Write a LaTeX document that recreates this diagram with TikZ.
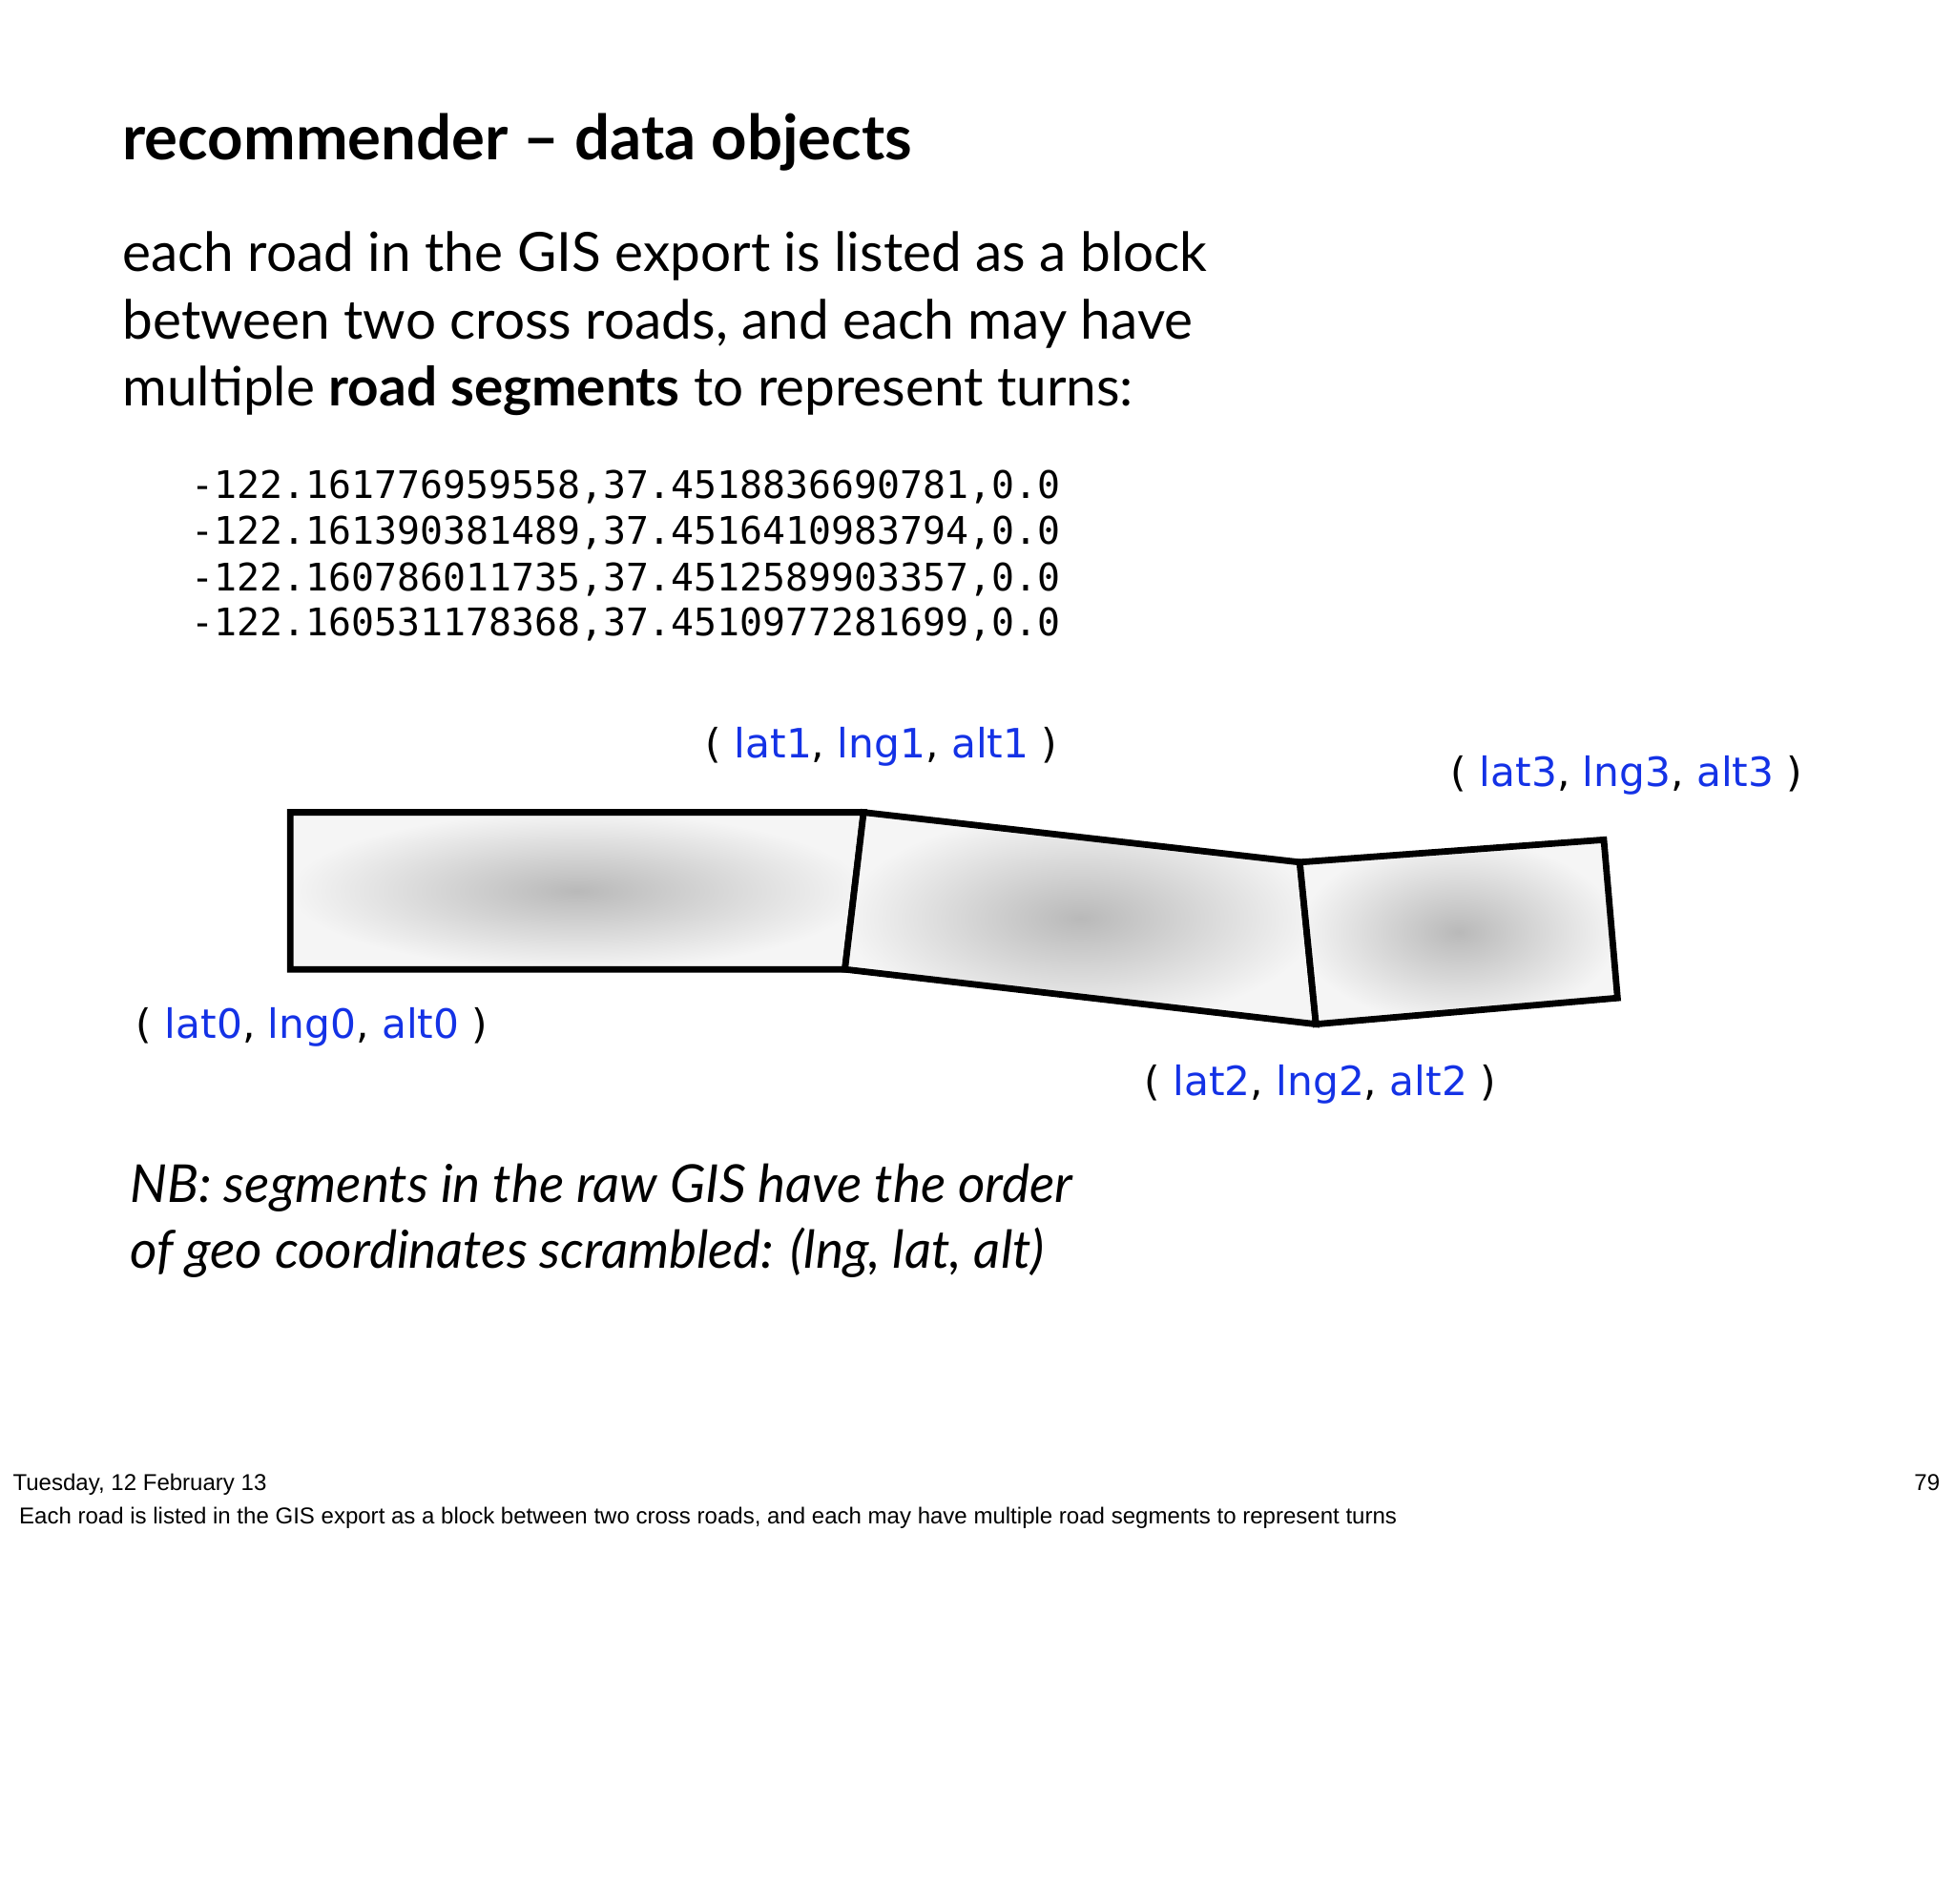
\documentclass[tikz,border=0pt]{standalone}
\usepackage{fontspec}
\setmainfont{Lato}
\newfontfamily\monof{DejaVu Sans Mono}
\newfontfamily\labf{DejaVu Sans}
\newfontfamily\footf{Liberation Sans}
\definecolor{lblue}{RGB}{20,50,230}
\begin{document}
\begin{tikzpicture}[x=0.5pt,y=-0.5pt,
  seg/.style={draw=black,line width=2.6pt,line join=miter,shading=radial,inner color=gray!55,outer color=gray!8},
  txt/.style={anchor=base west,inner sep=0pt},
  lab/.style={anchor=base west,inner sep=0pt,font=\labf\fontsize{16.2}{19}\selectfont}]
\useasboundingbox (0,0) rectangle (1568,1528);
\fill[white] (0,0) rectangle (1568,1528);
\node[txt,font=\bfseries\fontsize{25}{28}\selectfont] (title) at (98,128) {recommender -- data objects};
\node[txt,font=\fontsize{21.7}{27}\selectfont] (l1) at (98,218) {each road in the GIS export is listed as a block};
\node[txt,font=\fontsize{21.7}{27}\selectfont] (l2) at (98,272) {between two cross roads, and each may have};
\node[txt,font=\fontsize{21.7}{27}\selectfont] (l3) at (98,326) {multiple \textbf{road segments} to represent turns:};
\node[txt,font=\monof\fontsize{15.25}{18}\selectfont] (m1) at (153,400) {-122.161776959558,37.4518836690781,0.0};
\node[txt,font=\monof\fontsize{15.25}{18}\selectfont] (m2) at (153,437) {-122.161390381489,37.4516410983794,0.0};
\node[txt,font=\monof\fontsize{15.25}{18}\selectfont] (m3) at (153,474) {-122.160786011735,37.4512589903357,0.0};
\node[txt,font=\monof\fontsize{15.25}{18}\selectfont] (m4) at (153,510) {-122.160531178368,37.4510977281699,0.0};
\path[seg] (233,652) -- (693,652) -- (678,778) -- (233,778) -- cycle;
\path[seg] (693,652) -- (1043,692) -- (1056,822) -- (678,778) -- cycle;
\path[seg] (1043,692) -- (1287,674) -- (1298,801) -- (1056,822) -- cycle;
\node[lab] (p1) at (566,608) {( \textcolor{lblue}{lat1}, \textcolor{lblue}{lng1}, \textcolor{lblue}{alt1} )};
\node[lab] (p3) at (1164,631) {( \textcolor{lblue}{lat3}, \textcolor{lblue}{lng3}, \textcolor{lblue}{alt3} )};
\node[lab] (p0) at (109,833) {( \textcolor{lblue}{lat0}, \textcolor{lblue}{lng0}, \textcolor{lblue}{alt0} )};
\node[lab] (p2) at (918,879) {( \textcolor{lblue}{lat2}, \textcolor{lblue}{lng2}, \textcolor{lblue}{alt2} )};
\node[txt,font=\itshape\fontsize{21}{26}\selectfont] (nb1) at (104,965) {NB: segments in the raw GIS have the order};
\node[txt,font=\itshape\fontsize{21}{26}\selectfont] (nb2) at (104,1018) {of geo coordinates scrambled: (lng, lat, alt)};
\node[txt,font=\footf\fontsize{9.2}{11}\selectfont] (f1) at (10,1196) {Tuesday, 12 February 13};
\node[anchor=base east,inner sep=0pt,font=\footf\fontsize{9.2}{11}\selectfont] (f2) at (1557,1196) {79};
\node[txt,font=\footf\fontsize{9.2}{11}\selectfont] (f3) at (15,1223) {Each road is listed in the GIS export as a block between two cross roads, and each may have multiple road segments to represent turns};
\end{tikzpicture}
\end{document}
